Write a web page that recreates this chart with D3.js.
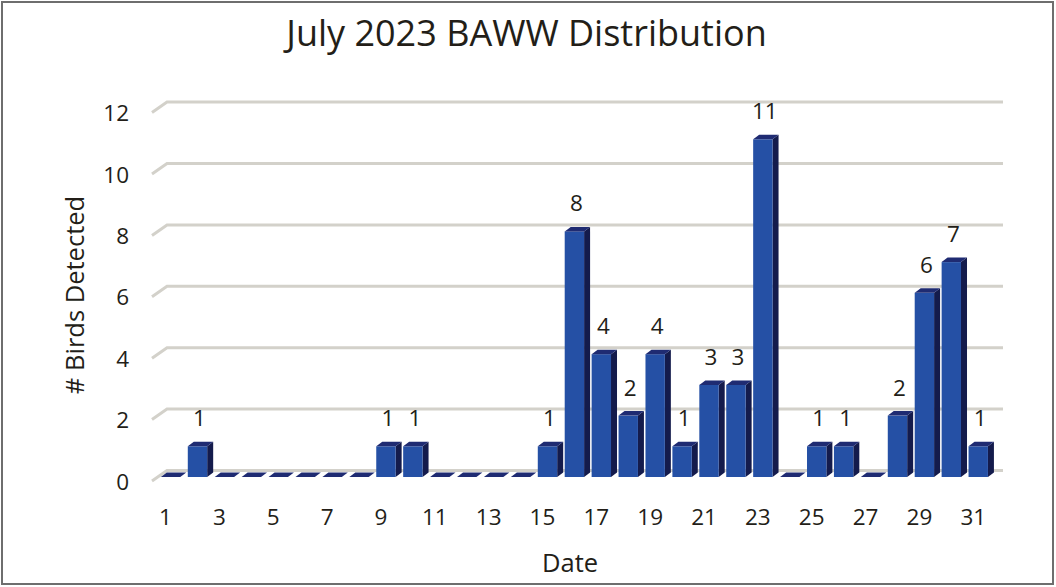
<!DOCTYPE html>
<html>
<head>
<meta charset="utf-8">
<script src="https://cdn.jsdelivr.net/npm/d3@7"></script>
<style>
  html, body { margin: 0; padding: 0; background: #fff; }
  text { font-family: "Open Sans", "Noto Sans", sans-serif; fill: #231e18; }
</style>
</head>
<body>
<div id="container"></div>
<script>
const days = d3.range(1, 32);
const birds = [0, 1, 0, 0, 0, 0, 0, 0, 1, 1, 0, 0, 0, 0, 1, 8, 4, 2, 4, 1, 3, 3, 11, 0, 1, 1, 0, 2, 6, 7, 1];
const yTicks = [0, 2, 4, 6, 8, 10, 12];
const xTicks = days.filter((d) => d % 2 === 1);

const width = 1056;
const height = 587;

const count = (d) => birds[d - 1];

// 3D offsets: wall depth and bar depth
const wallDx = 15, wallDy = -10.5;
const barDx = 6, barDy = -4.5;

const x = d3
  .scaleBand()
  .domain(days)
  .range([157.1, 991.7])
  .paddingInner(0.28)
  .paddingOuter(0.14);

// bars stand on y(0)
const y = d3.scaleLinear().domain([0, 12]).range([477, 477 - 12 * 30.7]);
// front edge of the wall gridlines
const yFront = d3.scaleLinear().domain([0, 12]).range([481, 481 - 12 * 30.7]);

const svg = d3.create("svg").attr("width", width).attr("height", height);

svg.append("rect")
  .attr("x", 0).attr("y", 0)
  .attr("width", width).attr("height", height)
  .attr("fill", "#fff");

svg.append("rect")
  .attr("x", 2).attr("y", 2)
  .attr("width", 1051).attr("height", 582)
  .attr("fill", "none")
  .attr("stroke", "#6e6e6e")
  .attr("stroke-width", 2);

// gridlines on the back wall
const wallLeft = 152;
const wallRight = 1003;
svg.append("g")
  .selectAll("path")
  .data(yTicks)
  .join("path")
  .attr("d", (d) => {
    const yf = yFront(d);
    return `M${wallLeft},${yf}L${wallLeft + wallDx},${yf + wallDy}L${wallRight},${yf + wallDy}`;
  })
  .attr("fill", "none")
  .attr("stroke", "#d3d1ca")
  .attr("stroke-width", 3);

// bars
const w = x.bandwidth();
const y0 = y(0);

const bars = svg.append("g")
  .selectAll("g")
  .data(days)
  .join("g");

const standing = bars.filter((d) => count(d) > 0);

standing.append("path")
  .attr("d", (d) => {
    const x0 = x(d) + w, yv = y(count(d));
    return `M${x0},${yv}L${x0 + barDx},${yv + barDy}L${x0 + barDx},${y0 + barDy}L${x0},${y0}Z`;
  })
  .attr("fill", "#141b4c");

standing.append("rect")
  .attr("x", (d) => x(d))
  .attr("y", (d) => y(count(d)))
  .attr("width", w)
  .attr("height", (d) => y0 - y(count(d)))
  .attr("fill", "#2550a5");

bars.append("path")
  .attr("d", (d) => {
    const x0 = x(d), yv = y(count(d));
    return `M${x0},${yv}L${x0 + barDx},${yv + barDy}L${x0 + w + barDx},${yv + barDy}L${x0 + w},${yv}Z`;
  })
  .attr("fill", "#1f2b72");

// value labels
svg.append("g")
  .selectAll("text")
  .data(days.filter((d) => count(d) > 0))
  .join("text")
  .attr("x", (d) => x(d) + w / 2 + 2)
  .attr("y", (d) => y(count(d)) - 20)
  .attr("text-anchor", "middle")
  .attr("font-size", 22.5)
  .text((d) => count(d));

// y axis labels
const yAxis = svg.append("g")
  .attr("transform", "translate(129,0)")
  .call(d3.axisLeft(yFront).tickValues(yTicks).tickSize(0).tickPadding(0));
yAxis.select(".domain").remove();
yAxis.selectAll("text")
  .attr("font-size", 22.5)
  .attr("font-family", null)
  .attr("fill", null)
  .attr("dy", "0.36em");

// x axis labels
const xAxis = svg.append("g")
  .attr("transform", "translate(-5,0)")
  .call(d3.axisBottom(x).tickValues(xTicks).tickSize(0).tickPadding(0));
xAxis.select(".domain").remove();
xAxis.selectAll("text")
  .attr("font-size", 22.5)
  .attr("font-family", null)
  .attr("fill", null)
  .attr("dy", null)
  .attr("y", 525);

svg.append("text")
  .attr("x", 526.5)
  .attr("y", 46)
  .attr("text-anchor", "middle")
  .attr("font-size", 36)
  .text("July 2023 BAWW Distribution");

svg.append("text")
  .attr("transform", "translate(84,295) rotate(-90)")
  .attr("text-anchor", "middle")
  .attr("font-size", 25.5)
  .text("# Birds Detected");

svg.append("text")
  .attr("x", 570)
  .attr("y", 572)
  .attr("text-anchor", "middle")
  .attr("font-size", 25.5)
  .text("Date");

d3.select("#container").append(() => svg.node());
</script>
</body>
</html>
